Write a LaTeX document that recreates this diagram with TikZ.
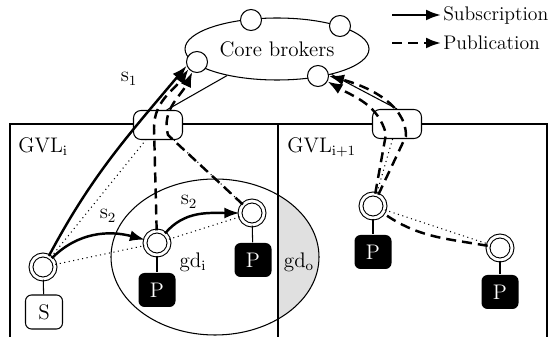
\documentclass[tikz,border=0pt]{standalone}
\usetikzlibrary{arrows.meta,shapes.geometric}
\tikzset{>={Latex[length=3mm,width=2.2mm]}}
\tikzset{
  broker/.style={circle,draw,fill=white,inner sep=0pt,minimum size=4.2mm},
  client/.style={circle,draw,double,double distance=1.6pt,fill=white,inner sep=0pt,minimum size=4.8mm},
  gateway/.style={rectangle,draw,fill=white,rounded corners=1.5mm,minimum width=9.8mm,minimum height=5.8mm},
  pubbox/.style={rectangle,fill=black,text=white,rounded corners=1.2mm,minimum width=7.4mm,minimum height=6.8mm},
  subbox/.style={pubbox,draw,fill=white,text=black},
  subline/.style={->,line width=1.4pt},
  publine/.style={->,line width=1.4pt,dash pattern=on 2mm off 1.2mm},
  cluster/.style={dotted,line width=0.6pt},
  legend/.style={anchor=west,inner sep=1pt,font=\fontsize{11.2}{13}\selectfont},
}

\begin{document}
\begin{tikzpicture}[x=0.2mm,y=-0.2mm,line width=0.6pt,font=\large]
  \useasboundingbox (0,0) rectangle (549,337);
  \begin{scope}
    \clip (278,0) rectangle (549,337);
    \fill[black!12] (215,257) ellipse [x radius=20.8mm,y radius=15.6mm];
  \end{scope}
  \draw (10,340) -- (10,124) -- (547,124) -- (547,340);
  \draw (278,124) -- (278,340);
  \draw (215,257) ellipse [x radius=20.8mm,y radius=15.6mm];
  \node[gateway] (gwl) at (158,125) {};
  \node[gateway] (gwr) at (397,124) {};
  \node[anchor=north west] (gvli) at (12,131) {GVL$_{\mathrm{i}}$};
  \node[anchor=north west] (gvlj) at (281,131) {GVL$_{\mathrm{i+1}}$};

  \node[ellipse,draw,minimum width=36.8mm,minimum height=12.4mm,inner sep=1pt] (core) at (277,49) {Core brokers};
  \node[broker] (b1) at (251,20) {};
  \node[broker] (b2) at (340,26) {};
  \node[broker] (b3) at (197,62) {};
  \node[broker] (b4) at (318,76) {};
  \draw (gwl.60) -- (core.208);
  \draw (gwr.north) -- (core.-25);

  \node[client] (sub) at (43,267) {};
  \node[subbox] (sbox) at (44,312) {S};
  \node[client] (pa) at (157,243) {};
  \node[pubbox] (pabox) at (157,290) {P};
  \node[client] (pb) at (252,213) {};
  \node[pubbox] (pbbox) at (253,260) {P};
  \node[client] (pc) at (373,206) {};
  \node[pubbox] (pcbox) at (373,252) {P};
  \node[client] (pd) at (500,248) {};
  \node[pubbox] (pdbox) at (500,292) {P};
  \foreach \c/\b in {sub/sbox,pa/pabox,pb/pbbox,pc/pcbox,pd/pdbox}
    \draw (\c) -- (\b);

  \node (gdi) at (193,262) {gd$_{\mathrm{i}}$};
  \node (gdo) at (299,262) {gd$_{\mathrm{o}}$};
  \node (ls1) at (129,79) {$\mathrm{s}_1$};
  \node (ls2a) at (108,216) {$\mathrm{s}_2$};
  \node (ls2b) at (189,202) {$\mathrm{s}_2$};

  \draw[cluster] (sub) -- (gwl) (sub) -- (pa) (gwl) -- (pb) (pa) -- (pb)
    (gwr) -- (pc) (pc) -- (pd);

  \draw[subline] (sub) to[out=62,in=230] (b3.200);
  \draw[subline] (sub) to[out=45,in=165] (pa);
  \draw[subline] (pa) to[out=50,in=180] (pb);

  \coordinate (gwl1) at (154,128);
  \coordinate (gwl2) at (168,135);
  \coordinate (gwr1) at (386,134);
  \coordinate (gwr2) at (406,136);
  \draw[publine] (pa) -- (gwl1) to[out=90,in=235] (b3.220);
  \draw[publine] (pb) -- (gwl2) to[out=105,in=245] (b3.245);
  \draw[publine] (pc) -- (gwr1) to[out=105,in=-30] (b4.-30);
  \draw[publine] (pc) -- (gwr2) to[out=90,in=-15,looseness=0.9] (b4.east);
  \draw[publine,-] (pd) to[out=170,in=-35] (pc);

  \coordinate (lsubs) at (392,15);
  \node[legend] (lsub) at (441,15) {Subscription};
  \draw[subline] (lsubs) -- (lsub);
  \coordinate (lpubs) at (392,43);
  \node[legend] (lpub) at (441,43) {Publication};
  \draw[publine] (lpubs) -- (lpub);
\end{tikzpicture}
\end{document}
